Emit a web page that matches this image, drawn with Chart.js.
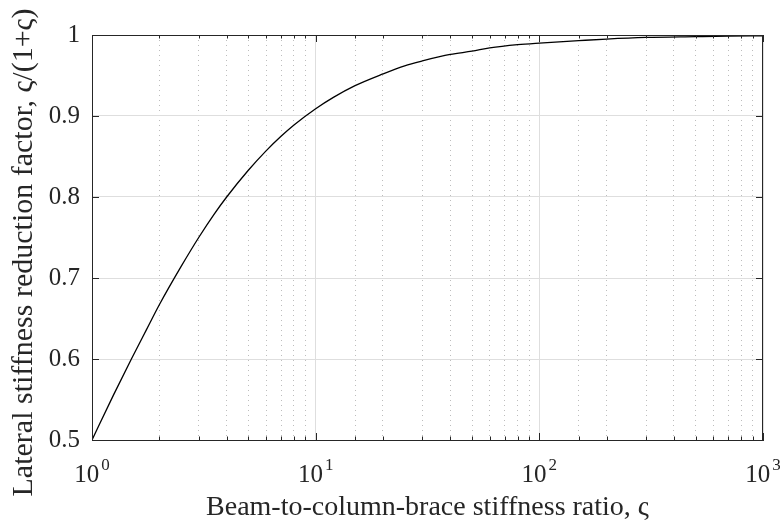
<!DOCTYPE html>
<html>
<head>
<meta charset="utf-8">
<script src="https://cdn.jsdelivr.net/npm/chart.js@4"></script>
<style>
  html, body { margin: 0; background: #fff; }
  #wrap { width: 780px; height: 524px; position: relative; }
</style>
</head>
<body>
<div id="wrap"><canvas id="c"></canvas></div>
<script>
// values
const stiffnessRatio = [1, 1.25, 1.5, 1.75, 2, 2.5, 3, 3.5, 4, 5, 6, 7, 8, 10, 12, 15, 20, 25, 30, 40, 50, 60, 80, 100, 150, 200, 300, 500, 700, 1000];
const reductionFactor = [0.5, 0.556, 0.6, 0.636, 0.667, 0.714, 0.75, 0.778, 0.8, 0.833, 0.857, 0.875, 0.889, 0.909, 0.923, 0.9375, 0.952, 0.962, 0.968, 0.976, 0.980, 0.984, 0.988, 0.990, 0.993, 0.995, 0.997, 0.998, 0.9986, 0.999];
const xMajorTicks = [1, 10, 100, 1000];
const xTickExponents = ['0', '1', '2', '3'];
const yTicks = [0.5, 0.6, 0.7, 0.8, 0.9, 1];

const AXIS = '#262626';
const FONT = '"Liberation Serif", "DejaVu Serif", serif';
const NB = '\u00A0';

const isMajor = v => Math.abs(Math.log10(v) - Math.round(Math.log10(v))) < 1e-9;

// box, inward ticks and 10^n labels
const frame = {
    id: 'frame',
    afterDraw(chart) {
        const { ctx, chartArea: a, scales: { x, y } } = chart;
        ctx.save();
        ctx.strokeStyle = AXIS;
        ctx.lineWidth = 1;
        ctx.beginPath();
        ctx.moveTo(a.left, a.top + 0.5); ctx.lineTo(a.right, a.top + 0.5);
        ctx.moveTo(a.right - 0.5, a.top); ctx.lineTo(a.right - 0.5, a.bottom);
        x.ticks.forEach(t => {
            const px = Math.round(x.getPixelForValue(t.value)) + 0.5;
            const len = isMajor(t.value) ? 7 : 3.5;
            ctx.moveTo(px, a.bottom); ctx.lineTo(px, a.bottom - len);
            ctx.moveTo(px, a.top); ctx.lineTo(px, a.top + len);
        });
        yTicks.forEach(v => {
            const py = Math.round(y.getPixelForValue(v)) + 0.5;
            ctx.moveTo(a.left, py); ctx.lineTo(a.left + 7, py);
            ctx.moveTo(a.right, py); ctx.lineTo(a.right - 7, py);
        });
        ctx.stroke();

        ctx.fillStyle = AXIS;
        ctx.textBaseline = 'alphabetic';
        xMajorTicks.forEach((v, i) => {
            const px = x.getPixelForValue(v);
            ctx.font = '25px ' + FONT;
            const wb = ctx.measureText('10').width;
            ctx.font = '17px ' + FONT;
            const we = ctx.measureText(xTickExponents[i]).width;
            const start = px - (wb + 2 + we) / 2;
            ctx.font = '25px ' + FONT;
            ctx.textAlign = 'left';
            ctx.fillText('10', start, 482);
            ctx.font = '17px ' + FONT;
            ctx.fillText(xTickExponents[i], start + wb + 2, 470);
        });
        ctx.restore();
    }
};

new Chart(document.getElementById('c'), {
    type: 'line',
    data: {
        datasets: [{
            data: stiffnessRatio.map((v, i) => ({ x: v, y: reductionFactor[i] })),
            borderColor: '#000',
            borderWidth: 1.3,
            pointRadius: 0,
            cubicInterpolationMode: 'monotone',
            fill: false
        }]
    },
    options: {
        responsive: true, maintainAspectRatio: false, animation: false,
        devicePixelRatio: 1,
        layout: { padding: { top: 35, right: 17, left: 0, bottom: 0 } },
        plugins: { legend: { display: false }, tooltip: { enabled: false } },
        scales: {
            x: {
                type: 'logarithmic', min: 1, max: 1000,
                afterFit: s => { s.height = 84; },
                grid: {
                    drawTicks: false,
                    color: c => isMajor(c.tick.value) ? '#dedede' : '#bdbdbd',
                    lineWidth: 1
                },
                border: {
                    color: AXIS, width: 1,
                    dash: c => (c.tick && !isMajor(c.tick.value)) ? [1, 4] : []
                },
                ticks: {
                    autoSkip: false, maxRotation: 0,
                    color: 'rgba(0,0,0,0)',
                    callback: () => ''
                },
                title: {
                    display: true,
                    text: 'Beam-to-column-brace stiffness ratio, \u03C2',
                    color: AXIS,
                    font: { family: FONT, size: 28 },
                    padding: { top: 0, bottom: 0 }
                }
            },
            y: {
                min: 0.5, max: 1,
                afterFit: s => { s.width = 92; },
                afterBuildTicks: s => { s.ticks = yTicks.map(v => ({ value: v })); },
                grid: { drawTicks: false, color: '#dedede', lineWidth: 1 },
                border: { color: AXIS, width: 1 },
                ticks: {
                    padding: 12,
                    color: AXIS,
                    font: { family: FONT, size: 25 },
                    callback: v => String(Math.round(v * 10) / 10)
                },
                title: {
                    display: true,
                    text: 'Lateral stiffness reduction factor, \u03C2/(1+\u03C2)' + NB.repeat(4),
                    color: AXIS,
                    font: { family: FONT, size: 30 },
                    padding: { top: 6, bottom: 0 }
                }
            }
        }
    },
    plugins: [frame]
});
</script>
</body>
</html>
